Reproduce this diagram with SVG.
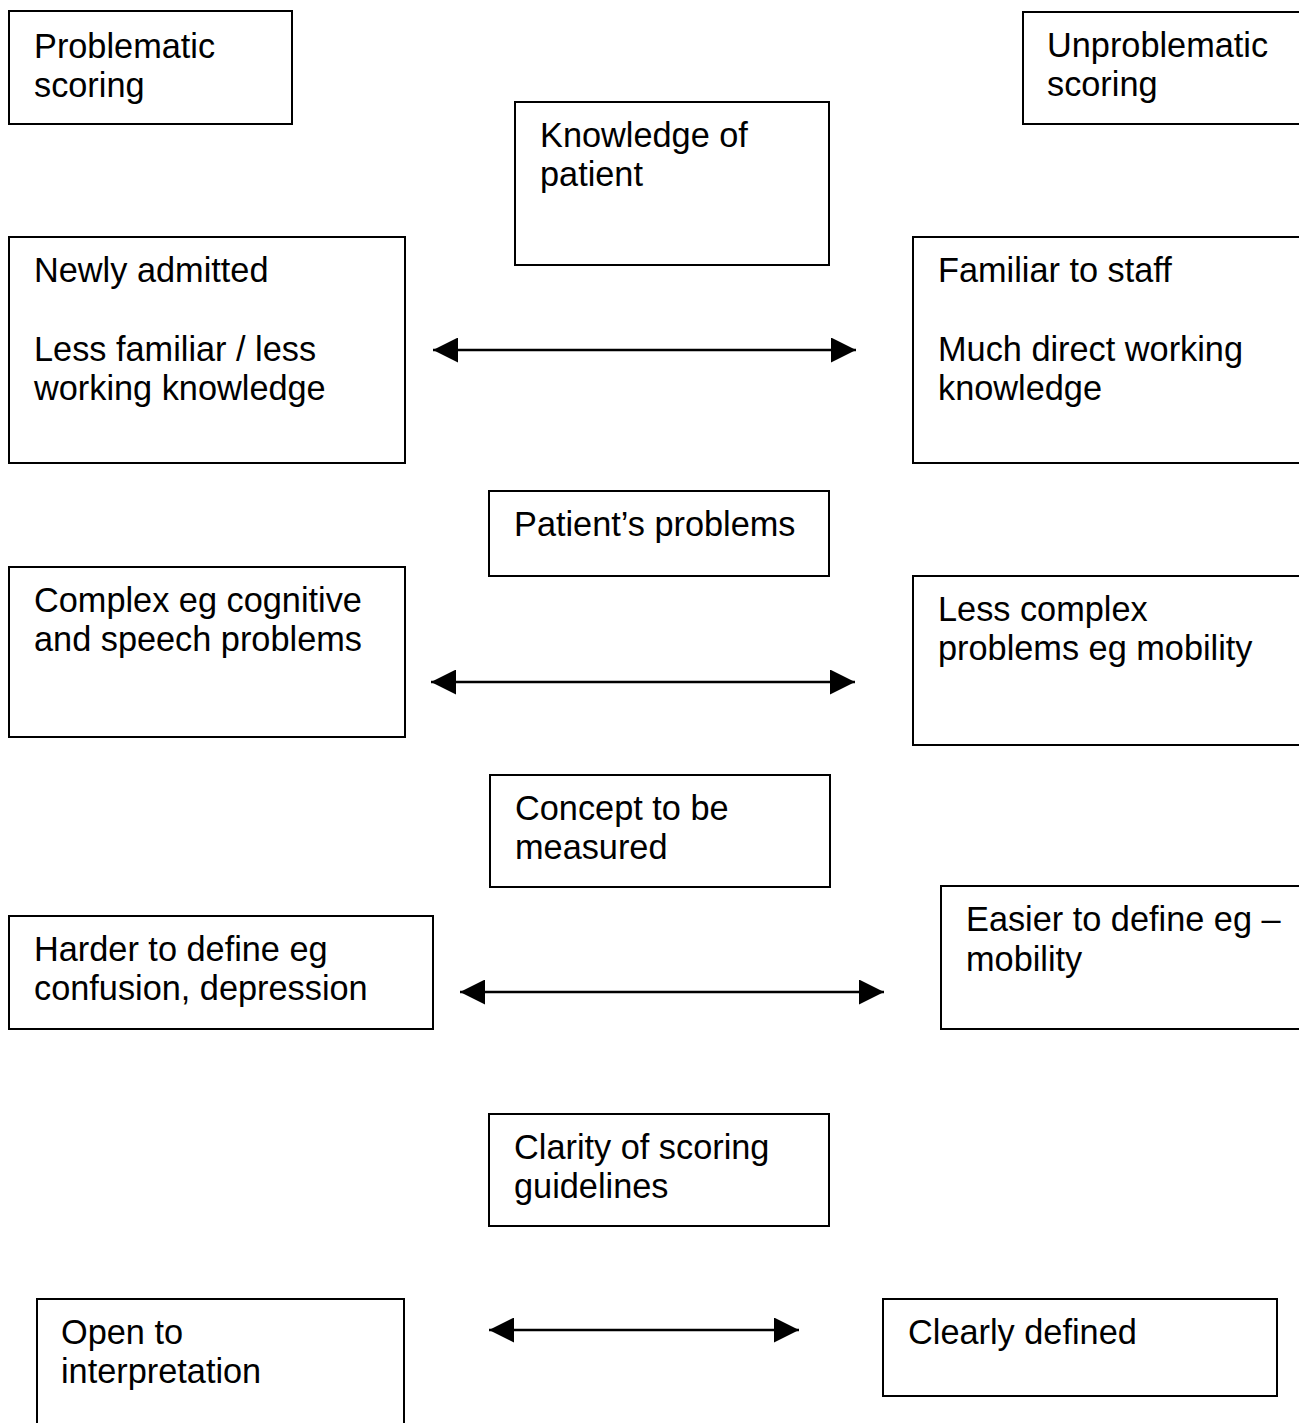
<svg xmlns="http://www.w3.org/2000/svg" width="1299" height="1423" viewBox="0 0 1299 1423">
<style>
.box{fill:#fff;stroke:#000;stroke-width:2}
.t{font-family:"Liberation Sans",Arial,sans-serif;font-size:34.3px;fill:#000}
.conn{stroke:#000;stroke-width:2.5;fill:none}
</style>
<defs>
<marker id="ah" viewBox="0 0 25 25" refX="25" refY="12.5" markerWidth="25" markerHeight="25" markerUnits="userSpaceOnUse" orient="auto-start-reverse">
<path d="M0,0 L25,12.5 L0,25 Z" fill="#000"/>
</marker>
</defs>
<rect width="1299" height="1423" fill="#fff"/>
<g id="problematic">
<rect class="box" x="9" y="11" width="283" height="113"/>
<text class="t" x="34" y="58">Problematic</text>
<text class="t" x="34" y="97">scoring</text>
</g>
<g id="unproblematic">
<rect class="box" x="1023" y="12" width="290" height="112"/>
<text class="t" x="1047" y="57">Unproblematic</text>
<text class="t" x="1047" y="96">scoring</text>
</g>
<g id="knowledge">
<rect class="box" x="515" y="102" width="314" height="163"/>
<text class="t" x="540" y="147">Knowledge of</text>
<text class="t" x="540" y="186">patient</text>
</g>
<g id="newly">
<rect class="box" x="9" y="237" width="396" height="226"/>
<text class="t" x="34" y="282">Newly admitted</text>
<text class="t" x="34" y="361">Less familiar / less</text>
<text class="t" x="34" y="400">working knowledge</text>
</g>
<g id="familiar">
<rect class="box" x="913" y="237" width="400" height="226"/>
<text class="t" x="938" y="282">Familiar to staff</text>
<text class="t" x="938" y="361">Much direct working</text>
<text class="t" x="938" y="400">knowledge</text>
</g>
<g id="problems">
<rect class="box" x="489" y="491" width="340" height="85"/>
<text class="t" x="514" y="536">Patient’s problems</text>
</g>
<g id="complex">
<rect class="box" x="9" y="567" width="396" height="170"/>
<text class="t" x="34" y="612">Complex eg cognitive</text>
<text class="t" x="34" y="651">and speech problems</text>
</g>
<g id="lesscomplex">
<rect class="box" x="913" y="576" width="400" height="169"/>
<text class="t" x="938" y="621">Less complex</text>
<text class="t" x="938" y="660">problems eg mobility</text>
</g>
<g id="concept">
<rect class="box" x="490" y="775" width="340" height="112"/>
<text class="t" x="515" y="820">Concept to be</text>
<text class="t" x="515" y="859">measured</text>
</g>
<g id="harder">
<rect class="box" x="9" y="916" width="424" height="113"/>
<text class="t" x="34" y="961">Harder to define eg</text>
<text class="t" x="34" y="1000">confusion, depression</text>
</g>
<g id="easier">
<rect class="box" x="941" y="886" width="372" height="143"/>
<text class="t" x="966" y="931">Easier to define eg –</text>
<text class="t" x="966" y="971">mobility</text>
</g>
<g id="clarity">
<rect class="box" x="489" y="1114" width="340" height="112"/>
<text class="t" x="514" y="1159">Clarity of scoring</text>
<text class="t" x="514" y="1198">guidelines</text>
</g>
<g id="open">
<rect class="box" x="37" y="1299" width="367" height="140"/>
<text class="t" x="61" y="1344">Open to</text>
<text class="t" x="61" y="1383">interpretation</text>
</g>
<g id="clearly">
<rect class="box" x="883" y="1299" width="394" height="97"/>
<text class="t" x="908" y="1344">Clearly defined</text>
</g>
<g id="connectors">
<line class="conn" x1="433" y1="350" x2="856" y2="350" marker-start="url(#ah)" marker-end="url(#ah)"/>
<line class="conn" x1="431" y1="682" x2="855" y2="682" marker-start="url(#ah)" marker-end="url(#ah)"/>
<line class="conn" x1="460" y1="992" x2="884" y2="992" marker-start="url(#ah)" marker-end="url(#ah)"/>
<line class="conn" x1="489" y1="1330" x2="799" y2="1330" marker-start="url(#ah)" marker-end="url(#ah)"/>
</g>
</svg>
